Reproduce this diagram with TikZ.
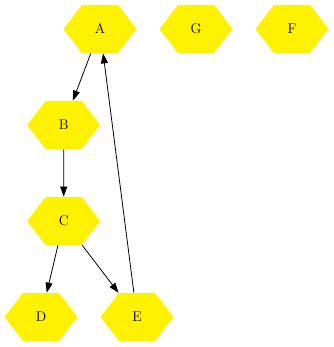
\documentclass[tikz,border=0pt]{standalone}
\usepackage{tikz}
\usetikzlibrary{shapes.symbols, arrows.meta}

\begin{document}
\begin{tikzpicture}[->, >={Triangle[length=10pt, width=7pt]}, line width=0.8pt,
                    x=1pt, y=-1pt,
                    hexa/.style={shape=signal, signal to=east and west,
                      signal pointer angle=105, fill=yellow, draw=none,
                      minimum width=73pt, minimum height=48pt, inner sep=0pt,
                      font=\fontsize{14}{16}\selectfont}]
    \useasboundingbox (0,0) rectangle (333,347);
    \node[hexa] (A) at (100,29) {A};
    \node[hexa] (G) at (196,29) {G};
    \node[hexa] (F) at (292,29) {F};
    \node[hexa] (B) at (63.7,125) {B};
    \node[hexa] (C) at (63.7,221) {C};
    \node[hexa] (D) at (41,317) {D};
    \node[hexa] (E) at (137,317) {E};
    \path
      (A) edge (B)
      (B) edge (C)
      (C) edge (D)
      (C) edge (E)
      (E) edge (A);
  \end{tikzpicture}
\end{document}
